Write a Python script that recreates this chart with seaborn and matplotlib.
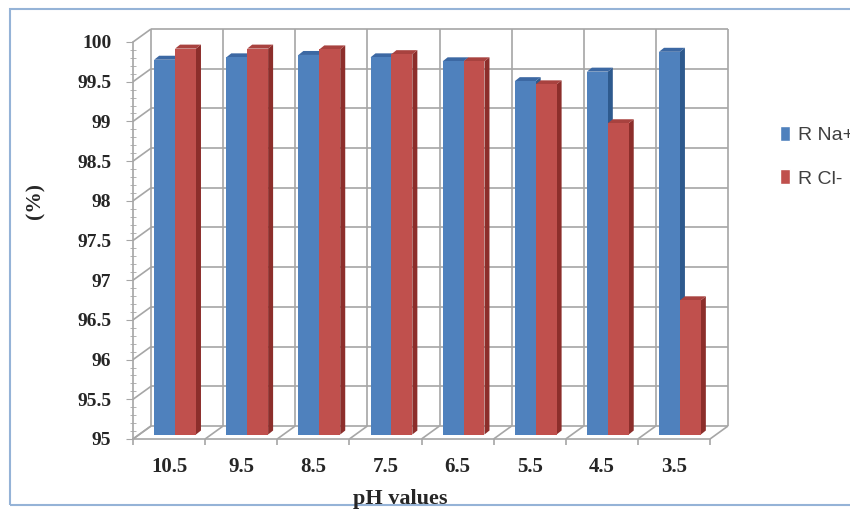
import numpy as np
import pandas as pd
import matplotlib
matplotlib.use("Agg")
import matplotlib.pyplot as plt
import seaborn as sns
from matplotlib.patches import Polygon, Rectangle, Patch
from matplotlib.ticker import MultipleLocator

# ---- data -------------------------------------------------------------
ph_values = ["10.5", "9.5", "8.5", "7.5", "6.5", "5.5", "4.5", "3.5"]
r_na = [99.72, 99.75, 99.78, 99.75, 99.70, 99.45, 99.57, 99.82]
r_cl = [99.86, 99.86, 99.85, 99.79, 99.70, 99.41, 98.92, 96.69]
series_names = ["R Na+", "R Cl-"]
y_ticks = [95, 95.5, 96, 96.5, 97, 97.5, 98, 98.5, 99, 99.5, 100]
y_tick_labels = ["95", "95.5", "96", "96.5", "97", "97.5", "98", "98.5",
                 "99", "99.5", "100"]

# ---- style ------------------------------------------------------------
BLUE, RED = "#4F81BD", "#C0504D"
SHADES = {BLUE: ("#3C68A3", "#2E5A8E"), RED: ("#A8423F", "#8C2E2B")}
GRID = "#A6A6A6"

sns.set_style("white")
plt.rcParams["font.family"] = ["Liberation Serif", "DejaVu Serif"]

W, H = 850, 513
fig = plt.figure(figsize=(W / 100, H / 100), dpi=100)
ax_l, ax_r, ax_t, ax_b = 133, 710, 42, 439
ax = fig.add_axes([ax_l / W, 1 - ax_b / H, (ax_r - ax_l) / W, (ax_b - ax_t) / H])

df = pd.DataFrame({
    "pH": ph_values * 2,
    "series": [series_names[0]] * len(ph_values) + [series_names[1]] * len(ph_values),
    "value": r_na + r_cl,
})
sns.barplot(data=df, x="pH", y="value", hue="series", order=ph_values,
            hue_order=series_names, palette=[BLUE, RED], width=0.58,
            saturation=1, errorbar=None, legend=False, ax=ax)

n = len(ph_values)
x0, x1 = -0.5, n - 0.5
y0, y1 = y_ticks[0], y_ticks[-1]
ax.set_xlim(x0, x1)
ax.set_ylim(y0, y1)

# pixel -> data conversion for the pseudo-3D depth
px_x = (x1 - x0) / (ax_r - ax_l)
px_y = (y1 - y0) / (ax_b - ax_t)
wall_dx, wall_dy = 18 * px_x, 13 * px_y      # back wall depth
bar_dx, bar_dy = 6 * px_x, 4.5 * px_y        # bar front plane
dep_dx, dep_dy = 5 * px_x, 4 * px_y          # bar thickness

line_kw = dict(color=GRID, lw=1.2, clip_on=False, zorder=0.5,
               solid_capstyle="butt")
bounds = np.arange(x0, x1 + 0.01, 1.0)

# back wall
for yv in y_ticks:
    ax.plot([x0 + wall_dx, x1 + wall_dx], [yv + wall_dy] * 2, **line_kw)
for b in bounds:
    ax.plot([b + wall_dx] * 2, [y0 + wall_dy, y1 + wall_dy], **line_kw)
# side wall diagonals
for yv in y_ticks:
    ax.plot([x0, x0 + wall_dx], [yv, yv + wall_dy], **line_kw)
# floor diagonals and front ticks
for b in bounds:
    ax.plot([b, b + wall_dx], [y0, y0 + wall_dy], **line_kw)
    ax.plot([b, b], [y0, y0 - 6 * px_y], **line_kw)

# bars: move onto their own plane and add top / side faces
for p in list(ax.patches):
    fc = matplotlib.colors.to_hex(p.get_facecolor()).upper()
    top_c, side_c = SHADES[fc] if fc in SHADES else SHADES[BLUE]
    bx, bw, val = p.get_x(), p.get_width(), p.get_y() + p.get_height()
    fx = bx + bar_dx
    fy0, fy1 = y0 + bar_dy, val + bar_dy
    p.set_x(fx)
    p.set_y(fy0)
    p.set_height(fy1 - fy0)
    p.set_edgecolor("none")
    p.set_clip_on(False)
    p.set_zorder(3)
    side = Polygon([(fx + bw, fy0), (fx + bw, fy1),
                    (fx + bw + dep_dx, fy1 + dep_dy), (fx + bw + dep_dx, fy0 + dep_dy)],
                   closed=True, facecolor=side_c, edgecolor="none",
                   clip_on=False, zorder=2)
    top = Polygon([(fx, fy1), (fx + bw, fy1),
                   (fx + bw + dep_dx, fy1 + dep_dy), (fx + dep_dx, fy1 + dep_dy)],
                  closed=True, facecolor=top_c, edgecolor="none",
                  clip_on=False, zorder=2)
    ax.add_patch(side)
    ax.add_patch(top)

# axes
for s in ["top", "right"]:
    ax.spines[s].set_visible(False)
for s in ["left", "bottom"]:
    ax.spines[s].set_color(GRID)
    ax.spines[s].set_linewidth(1.2)
    ax.spines[s].set_zorder(0.5)

ax.set_yticks(y_ticks)
ax.set_yticklabels(y_tick_labels, fontweight="bold", fontsize=14)
ax.yaxis.set_minor_locator(MultipleLocator(0.1))
ax.tick_params(axis="y", which="major", direction="out", length=5,
               color=GRID, pad=10.5, left=True)
ax.tick_params(axis="y", which="minor", direction="inout", length=4,
               color=GRID, left=True)
ax.tick_params(axis="x", length=0, pad=13)
for lab in ax.get_xticklabels():
    lab.set_fontweight("bold")
    lab.set_fontsize(15)
ax.set_xlabel("")
ax.set_ylabel("")

fig.text(35 / W, 1 - 201 / H, "(%)", rotation=90, ha="center", va="center",
         fontsize=15.5, fontweight="bold")
fig.text(400 / W, 1 - 499 / H, "pH values", ha="center", va="center",
         fontsize=16, fontweight="bold")

# legend
handles = [Patch(facecolor=BLUE), Patch(facecolor=RED)]
fig.legend(handles, series_names, loc="upper left",
           bbox_to_anchor=(780 / W, 1 - 126 / H), frameon=False,
           prop={"family": ["Liberation Sans", "DejaVu Sans"], "size": 14},
           labelcolor="#404040", handlelength=0.5, handleheight=0.8,
           handletextpad=0.45, labelspacing=1.3, borderaxespad=0,
           borderpad=0)

# frame around the chart area
fig.add_artist(Rectangle((10 / W, 1 - 505 / H), 900 / W, 496 / H,
                         transform=fig.transFigure, fill=False,
                         edgecolor="#95B3D7", lw=1.5))

fig.savefig("out.png", dpi=100)
